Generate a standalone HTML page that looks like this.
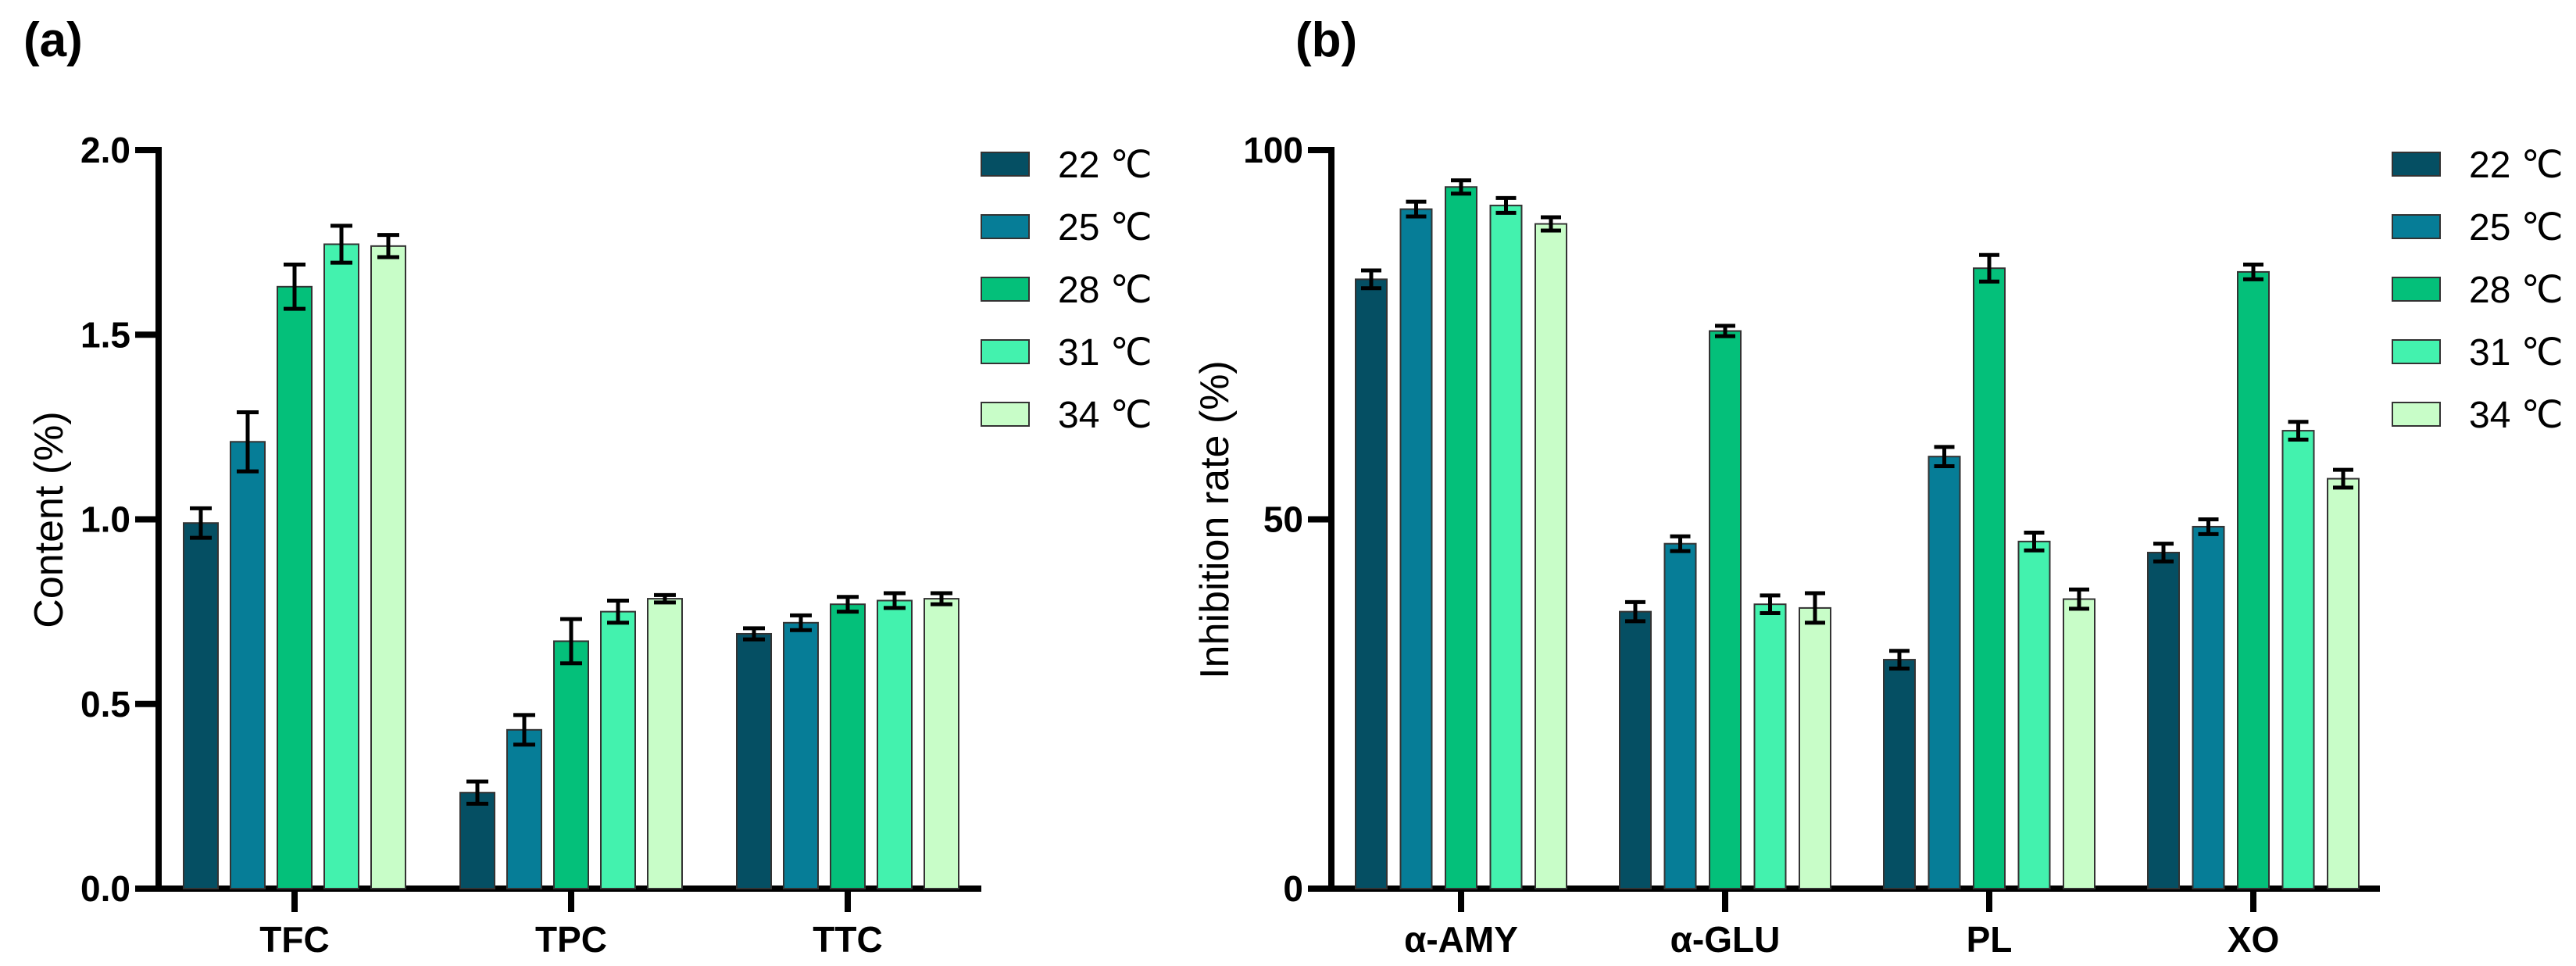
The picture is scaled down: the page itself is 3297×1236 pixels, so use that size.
<!DOCTYPE html>
<html><head><meta charset="utf-8"><style>
html,body{margin:0;padding:0;background:#fff;}
svg{display:block;font-family:"Liberation Sans",Arial,sans-serif;}
.nar{font-family:"Liberation Sans Narrow","Liberation Sans",Arial,sans-serif;}
</style></head><body>
<svg id="fig" width="3297" height="1236" viewBox="0 0 3297 1236" xmlns="http://www.w3.org/2000/svg">
<text x="30" y="72" font-size="62" font-weight="bold">(a)</text>
<text x="1658" y="72" font-size="62" font-weight="bold">(b)</text>
<text transform="translate(80,665) rotate(-90)" text-anchor="middle" font-size="52">Content (%)</text>
<text transform="translate(1572,665) rotate(-90)" text-anchor="middle" font-size="52">Inhibition rate (%)</text>
<g id="ga"></g><g id="gb"></g>
</svg>
<script>
var seriesNames=["22 ℃","25 ℃","28 ℃","31 ℃","34 ℃"];
var colors=["#054f63","#067d97","#04c07a","#43f2ae","#c8fdc8"];
var catsA=["TFC","TPC","TTC"];
var valsA=[[0.99,0.26,0.69],[1.21,0.43,0.72],[1.63,0.67,0.77],[1.745,0.75,0.78],[1.74,0.785,0.785]];
var errA=[[0.04,0.03,0.015],[0.08,0.04,0.02],[0.06,0.06,0.02],[0.05,0.03,0.02],[0.03,0.01,0.015]];
var ticksA=[0,0.5,1.0,1.5,2.0];
var tickLabA=["0.0","0.5","1.0","1.5","2.0"];
var catsB=["α-AMY","α-GLU","PL","XO"];
var valsB=[[82.5,37.5,31,45.5],[92,46.7,58.5,49],[95,75.5,84,83.5],[92.5,38.5,47,62],[90,38,39.2,55.5]];
var errB=[[1.2,1.3,1.2,1.2],[1,1,1.3,1],[0.9,0.7,1.8,1],[1,1.2,1.2,1.2],[0.9,2,1.3,1.2]];
var ticksB=[0,50,100];
var tickLabB=["0","50","100"];
var NS="http://www.w3.org/2000/svg";
function mk(p,t,a){var e=document.createElementNS(NS,t);for(var k in a)e.setAttribute(k,a[k]);p.appendChild(e);return e;}
function draw(g,o){
  var y=function(v){return o.y0-(v-o.min)/(o.max-o.min)*(o.y0-o.y1);};
  var xc=function(ci){return o.c0+ci*o.gp;};
  var ax=mk(g,'line',{x1:o.ax,y1:o.y1-4,x2:o.ax,y2:o.y0+4,stroke:'#000','stroke-width':8});
  
  
  var xa=mk(g,'line',{x1:o.ax-30,y1:o.y0,x2:o.xend,y2:o.y0,stroke:'#000','stroke-width':8});
  
  
  o.ticks.forEach(function(t,i){
    var l=mk(g,'line',{x1:o.ax-30,y1:y(t),x2:o.ax,y2:y(t),stroke:'#000','stroke-width':8});
    
    
    var tx=mk(g,'text',{x:o.ax-36,y:y(t)+16,'text-anchor':'end','font-size':46,'font-weight':'bold','class':'nar'});
    tx.textContent=o.tickLab[i];
    
    
  });
  o.cats.forEach(function(c,ci){
    var cx=xc(ci);
    var l=mk(g,'line',{x1:cx,y1:o.y0,x2:cx,y2:o.y0+30,stroke:'#000','stroke-width':8});
    
    
    var tx=mk(g,'text',{x:cx,y:1218,'text-anchor':'middle','font-size':46,'font-weight':'bold'});
    tx.textContent=c;
    
    
    for(var s=0;s<5;s++){
      var bx=cx+(s-2)*o.bp-o.bw/2, v=o.vals[s][ci], e=o.err[s][ci];
      var r=mk(g,'rect',{x:bx,y:y(v),width:o.bw,height:o.y0-y(v),fill:colors[s],stroke:'#333','stroke-width':2});
      
      
      var mx=cx+(s-2)*o.bp;
      var eb=mk(g,'path',{d:'M'+mx+' '+y(v+e)+'V'+y(v-e)+'M'+(mx-o.cap)+' '+y(v+e)+'H'+(mx+o.cap)+'M'+(mx-o.cap)+' '+y(v-e)+'H'+(mx+o.cap),stroke:'#000','stroke-width':5,fill:'none'});
      
      
    }
  });
  for(var s=0;s<5;s++){
    var ly=o.ly+s*80;
    var sw=mk(g,'rect',{x:o.lx,y:ly-15,width:61,height:30,fill:colors[s],stroke:'#333','stroke-width':2});
    
    
    var t=mk(g,'text',{x:o.lx+98,y:ly+17,'font-size':48});
    t.textContent=seriesNames[s];
    
    
  }
}
draw(document.getElementById('ga'),{id:'a',min:0,max:2,y0:1137,y1:192,ax:203,xend:1256,c0:377,gp:354,bp:60,bw:44,cap:14,cats:catsA,vals:valsA,err:errA,ticks:ticksA,tickLab:tickLabA,lx:1256,ly:210});
draw(document.getElementById('gb'),{id:'b',min:0,max:100,y0:1137,y1:192,ax:1704,xend:3046,c0:1870,gp:338,bp:57.5,bw:40,cap:13,cats:catsB,vals:valsB,err:errB,ticks:ticksB,tickLab:tickLabB,lx:3062,ly:210});
</script>
</body></html>
